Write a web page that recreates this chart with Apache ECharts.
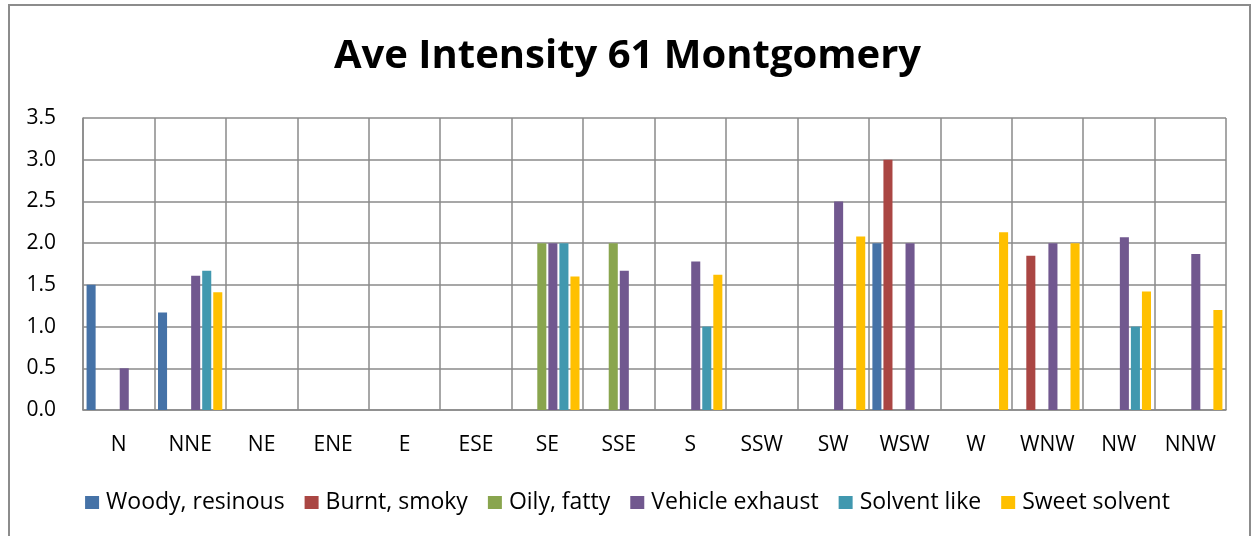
<!DOCTYPE html>
<html>
<head>
<meta charset="utf-8">
<script src="https://cdn.jsdelivr.net/npm/echarts@6/dist/echarts.min.js"></script>
<style>
  html, body { margin: 0; padding: 0; background: #fff; }
  #frame { position: absolute; left: 8px; top: 4px; width: 1243px; height: 600px; border: 2px solid #8c8c8c; box-sizing: border-box; }
  #chart { position: absolute; left: 0; top: 0; width: 1255px; height: 536px; }
</style>
</head>
<body>
<div id="frame"></div>
<div id="chart"></div>
<script>
const directions = ['N', 'NNE', 'NE', 'ENE', 'E', 'ESE', 'SE', 'SSE', 'S', 'SSW', 'SW', 'WSW', 'W', 'WNW', 'NW', 'NNW'];

// null = no observation for that direction
const woody   = [1.5, 1.17, null, null, null, null, null, null, null, null, null, 2.0, null, null, null, null];
const burnt   = [null, null, null, null, null, null, null, null, null, null, null, 3.0, null, 1.85, null, null];
const oily    = [null, null, null, null, null, null, 2.0, 2.0, null, null, null, null, null, null, null, null];
const vehicle = [0.5, 1.61, null, null, null, null, 2.0, 1.67, 1.78, null, 2.5, 2.0, null, 2.0, 2.07, 1.87];
const solvent = [null, 1.67, null, null, null, null, 2.0, null, 1.0, null, null, null, null, null, 1.0, null];
const sweet   = [null, 1.41, null, null, null, null, 1.6, null, 1.62, null, 2.08, null, 2.13, 2.0, 1.42, 1.2];

const seriesNames = ['Woody, resinous', 'Burnt, smoky', 'Oily, fatty', 'Vehicle exhaust', 'Solvent like', 'Sweet solvent'];
const seriesData = [woody, burnt, oily, vehicle, solvent, sweet];
const colors = ['#4572A7', '#AA4643', '#89A54E', '#71588F', '#4198AF', '#FFC000'];

const font = '"Open Sans", "Noto Sans", sans-serif';
const gridColor = '#8a8a8a';

const chart = echarts.init(document.getElementById('chart'), null, { renderer: 'canvas' });

chart.setOption({
  backgroundColor: 'transparent',
  color: colors,
  animation: false,
  title: {
    text: 'Ave Intensity 61 Montgomery',
    left: 'center',
    top: 32,
    textStyle: { fontFamily: font, fontWeight: 'bold', fontSize: 40, color: '#000' },
  },
  legend: {
    bottom: 17,
    left: 'center',
    itemWidth: 14,
    itemHeight: 13,
    itemGap: 20,
    icon: 'rect',
    textStyle: { fontFamily: font, fontSize: 23, color: '#000', padding: [0, 0, 0, 2] },
    data: seriesNames,
  },
  grid: { left: 83, right: 29, top: 118, bottom: 126 },
  xAxis: {
    type: 'category',
    data: directions,
    axisLine: { lineStyle: { color: gridColor, width: 1.5 } },
    axisTick: { show: false },
    axisLabel: { color: '#000', fontFamily: font, fontSize: 21, margin: 25 },
    splitLine: { show: true, lineStyle: { color: gridColor, width: 1.5 } },
  },
  yAxis: {
    type: 'value',
    min: 0,
    max: 3.5,
    interval: 0.5,
    axisLine: { show: true, lineStyle: { color: gridColor, width: 1.5 } },
    axisTick: { show: false },
    axisLabel: { color: '#000', fontFamily: font, fontSize: 21, margin: 27, formatter: v => v.toFixed(1) },
    splitLine: { show: true, lineStyle: { color: gridColor, width: 1.5 } },
  },
  series: seriesNames.map((name, i) => ({
    name,
    type: 'bar',
    data: seriesData[i],
    barGap: '22%',
    barCategoryGap: '10%',
    itemStyle: { color: colors[i] },
  })),
});
</script>
</body>
</html>
